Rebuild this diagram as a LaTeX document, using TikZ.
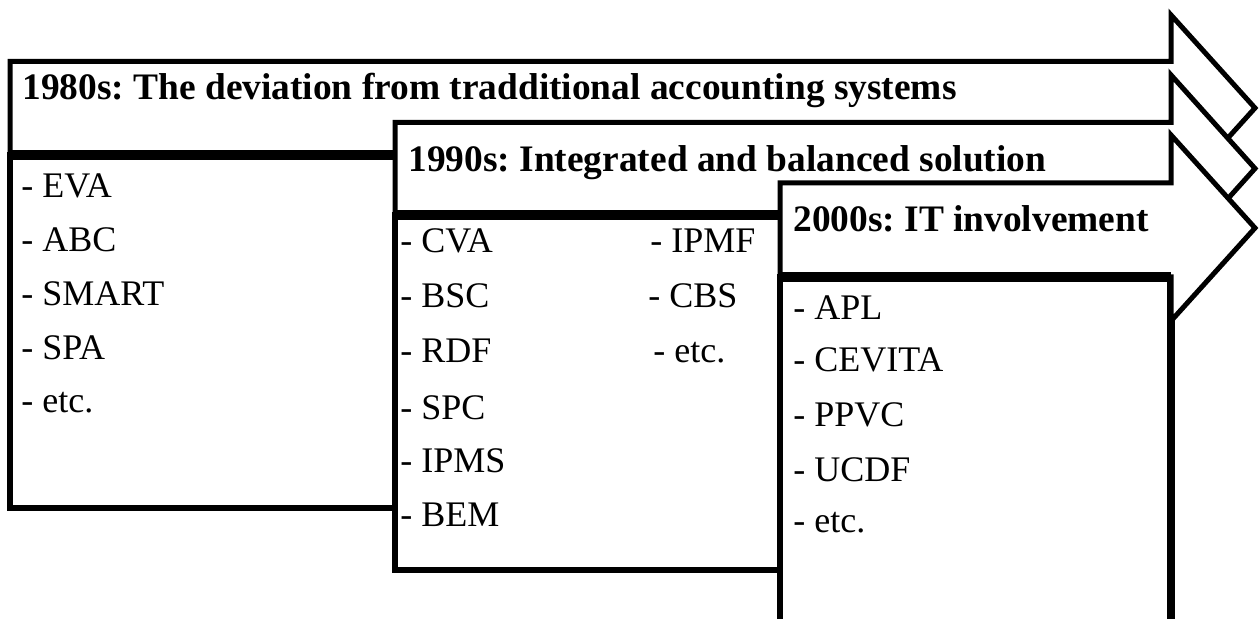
\documentclass[tikz,border=0pt]{standalone}
\usepackage{fontspec}
\setmainfont{Liberation Serif}
\frenchspacing
\begin{document}
\begin{tikzpicture}[x=0.5pt, y=-0.5pt, line join=miter,
  arrowline/.style={draw=black, line width=2.5pt, fill=white},
  boxline/.style={draw=black, line width=3pt, fill=white},
  divider/.style={draw=black, line width=5pt},
  headtext/.style={font=\fontsize{18.7}{22}\selectfont\bfseries, anchor=base west, inner sep=0pt},
  itemtext/.style={font=\fontsize{18}{22}\selectfont, anchor=base west, inner sep=0pt}]
\useasboundingbox (0,0) rectangle (1260,619);
\clip (0,0) rectangle (1260,619);

% ---------- 1980s ----------
\draw[boxline] (10,155) rectangle (700,508);
\draw[arrowline] (10,155) -- (10,61.5) -- (1171,61.5) -- (1171,15) -- (1255,108)
  -- (1171,201) -- (1171,155) -- cycle;
\draw[divider] (10,155) -- (1171,155);
\node[headtext] (h1) at (22,100) {1980s: The deviation from tradditional accounting systems};
\node[itemtext] (a1) at (21,198) {- EVA};
\node[itemtext] (a2) at (21,252) {- ABC};
\node[itemtext] (a3) at (21,306) {- SMART};
\node[itemtext] (a4) at (21,360) {- SPA};
\node[itemtext] (a5) at (21,413) {- etc.};

% ---------- 1990s ----------
\draw[boxline] (395,215) rectangle (1100,570);
\draw[arrowline] (395,215) -- (395,122.5) -- (1171,122.5) -- (1171,75) -- (1255,168.5)
  -- (1171,262) -- (1171,215) -- cycle;
\draw[divider] (395,215) -- (1171,215);
\node[headtext] (h2) at (408,172) {1990s: Integrated and balanced solution};
\node[itemtext] (b1) at (400,253) {- CVA};
\node[itemtext] (b2) at (400,308) {- BSC};
\node[itemtext] (b3) at (400,363) {- RDF};
\node[itemtext] (b4) at (400,420) {- SPC};
\node[itemtext] (b5) at (400,473) {- IPMS};
\node[itemtext] (b6) at (400,527) {- BEM};
\node[itemtext] (c1) at (650,253) {- IPMF};
\node[itemtext] (c2) at (648,308) {- CBS};
\node[itemtext] (c3) at (653,363) {- etc.};

% ---------- 2000s ----------
\draw[boxline] (780,277) rectangle (1171,700);
\draw[draw=black, line width=4pt] (1171,277) -- (1171,700);
\draw[arrowline] (780,277) -- (780,183) -- (1171,183) -- (1171,135) -- (1255,228)
  -- (1171,321) -- (1171,277) -- cycle;
\draw[divider] (780,277) -- (1171,277);
\node[headtext] (h3) at (793,232) {2000s: IT involvement};
\node[itemtext] (d1) at (793,320) {- APL};
\node[itemtext] (d2) at (793,372) {- CEVITA};
\node[itemtext] (d3) at (793,427) {- PPVC};
\node[itemtext] (d4) at (793,482) {- UCDF};
\node[itemtext] (d5) at (793,533) {- etc.};
\end{tikzpicture}
\end{document}
